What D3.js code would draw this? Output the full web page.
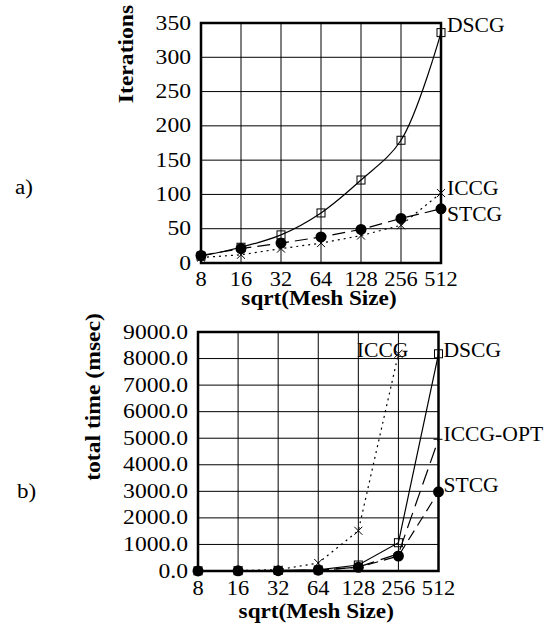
<!DOCTYPE html>
<html>
<head>
<meta charset="utf-8">
<script src="https://cdn.jsdelivr.net/npm/d3@7"></script>
<style>
  body { margin: 0; background: #fff; }
  text { font-family: "Liberation Serif", "Times New Roman", serif; fill: #000; }
</style>
</head>
<body>
<svg id="chart" width="547" height="624"></svg>
<script>
// x categories (sqrt of mesh size)
const meshSizes = [8, 16, 32, 64, 128, 256, 512];

// a) iterations
const iterTicks = [0, 50, 100, 150, 200, 250, 300, 350];
const iterDSCG = [10, 23, 41, 73, 121, 179, 336];
const iterICCG = [8, 12, 21, 29, 40, 55, 102];
const iterSTCG = [11, 21, 29, 38, 49, 65, 79];

// b) total time (msec)
const timeTicks = [0, 1000, 2000, 3000, 4000, 5000, 6000, 7000, 8000, 9000];
const timeDSCG = [5, 10, 20, 40, 225, 1065, 8180];
const timeICCG = [5, 15, 50, 300, 1515, 8180, null];
const timeICCGopt = [3, 5, 10, 25, 150, 650, 4960];
const timeSTCG = [2, 5, 10, 30, 140, 565, 2980];

const svg = d3.select("#chart");

// the original glyphs are a bit wider than Times, widen along the text direction
function stretch(k) {
  return sel => sel.each(function () {
    const w = this.getComputedTextLength();
    d3.select(this).attr("textLength", w * k).attr("lengthAdjust", "spacingAndGlyphs");
  });
}

function drawMarker(g, type, x, y) {
  if (type === "square") {
    g.append("rect").attr("x", x - 4).attr("y", y - 4).attr("width", 8).attr("height", 8)
      .attr("fill", "none").attr("stroke", "#000").attr("stroke-width", 1);
  } else if (type === "circle") {
    g.append("circle").attr("cx", x).attr("cy", y).attr("r", 5.5).attr("fill", "#000");
  } else if (type === "cross") {
    g.append("path").attr("d", `M${x - 4},${y - 4}L${x + 4},${y + 4}M${x - 4},${y + 4}L${x + 4},${y - 4}`)
      .attr("stroke", "#000").attr("stroke-width", 1);
  } else if (type === "dash") {
    g.append("path").attr("d", `M${x - 5},${y}L${x + 4},${y}`)
      .attr("stroke", "#000").attr("stroke-width", 1);
  }
}

function drawPanel(cfg) {
  const { left, top, right, bottom } = cfg.box;
  const x = d3.scalePoint().domain(meshSizes).range([left, right]);
  const y = d3.scaleLinear().domain([0, cfg.yMax]).range([bottom, top]);
  const g = svg.append("g");

  // grid
  g.append("g").selectAll("line").data(meshSizes).enter().append("line")
    .attr("x1", d => x(d)).attr("x2", d => x(d)).attr("y1", top).attr("y2", bottom)
    .attr("stroke", "#000").attr("stroke-width", 1);
  g.append("g").selectAll("line").data(cfg.yTicks).enter().append("line")
    .attr("x1", left).attr("x2", right).attr("y1", d => y(d)).attr("y2", d => y(d))
    .attr("stroke", "#000").attr("stroke-width", 1);

  // y tick labels
  g.append("g").selectAll("text").data(cfg.yTicks).enter().append("text")
    .attr("x", left - 10).attr("y", d => y(d)).attr("dy", "0.33em")
    .attr("text-anchor", "end").style("font-size", "20px")
    .text(cfg.yFormat).call(stretch(1.18));

  // x tick labels
  g.append("g").selectAll("text").data(meshSizes).enter().append("text")
    .attr("x", d => x(d)).attr("y", cfg.xLabelY)
    .attr("text-anchor", "middle").style("font-size", "20px")
    .text(d => d).call(stretch(1.12));

  // series
  cfg.series.forEach(s => {
    const pts = meshSizes.map((m, i) => ({ m, v: s.values[i] }));
    const line = d3.line().defined(d => d.v != null)
      .x(d => x(d.m)).y(d => y(d.v)).curve(s.curve || d3.curveLinear);
    g.append("path").datum(pts).attr("d", line)
      .attr("fill", "none").attr("stroke", "#000").attr("stroke-width", 1.2)
      .attr("stroke-dasharray", s.dash);
    const mg = g.append("g");
    pts.filter(d => d.v != null).forEach(d => drawMarker(mg, s.marker, x(d.m), y(d.v)));
    const last = pts.filter(d => d.v != null).pop();
    g.append("text")
      .attr("x", x(last.m) + s.label[0]).attr("y", y(last.v) + s.label[1]).attr("dy", "0.33em")
      .attr("text-anchor", s.anchor || "start").style("font-size", "20px")
      .text(s.name).call(stretch(1.08));
  });

  // frame
  g.append("rect").attr("x", left).attr("y", top)
    .attr("width", right - left).attr("height", bottom - top)
    .attr("fill", "none").attr("stroke", "#000").attr("stroke-width", 2.5);

  // axis titles
  g.append("text").attr("x", (left + right) / 2 - 2).attr("y", cfg.xTitleY)
    .attr("text-anchor", "middle").style("font-size", "20px").style("font-weight", "bold")
    .text("sqrt(Mesh Size)").call(stretch(1.16));
  g.append("text")
    .attr("transform", `translate(${cfg.yTitle[1]},${cfg.yTitle[2]}) rotate(-90)`)
    .attr("text-anchor", "middle").style("font-size", "20px").style("font-weight", "bold")
    .text(cfg.yTitle[0]).call(stretch(1.18));

  // panel label
  g.append("text").attr("x", cfg.panel[1]).attr("y", cfg.panel[2])
    .style("font-size", "20px").text(cfg.panel[0]).call(stretch(1.15));
}

drawPanel({
  box: { left: 201, top: 23, right: 441, bottom: 263 },
  yMax: 350, yTicks: iterTicks, yFormat: d => d,
  xLabelY: 286, xTitleY: 305,
  yTitle: ["Iterations", 133, 54],
  panel: ["a)", 15, 194],
  series: [
    { name: "DSCG", values: iterDSCG, marker: "square", dash: null, curve: d3.curveCatmullRom, label: [6, -7] },
    { name: "STCG", values: iterSTCG, marker: "circle", dash: "13,6", label: [6, 6] },
    { name: "ICCG", values: iterICCG, marker: "cross", dash: "2,4", label: [6, -5] }
  ]
});

drawPanel({
  box: { left: 198, top: 332, right: 438.5, bottom: 571 },
  yMax: 9000, yTicks: timeTicks, yFormat: d3.format(".1f"),
  xLabelY: 595, xTitleY: 618,
  yTitle: ["total time (msec)", 100, 397],
  panel: ["b)", 17, 498],
  series: [
    { name: "DSCG", values: timeDSCG, marker: "square", dash: null, label: [5, -3] },
    { name: "ICCG-OPT", values: timeICCGopt, marker: "dash", dash: "16,7", label: [5, -5] },
    { name: "STCG", values: timeSTCG, marker: "circle", dash: "11,6", label: [5, -6] },
    { name: "ICCG", values: timeICCG, marker: "cross", dash: "2,4", label: [10, -3], anchor: "end" }
  ]
});
</script>
</body>
</html>
